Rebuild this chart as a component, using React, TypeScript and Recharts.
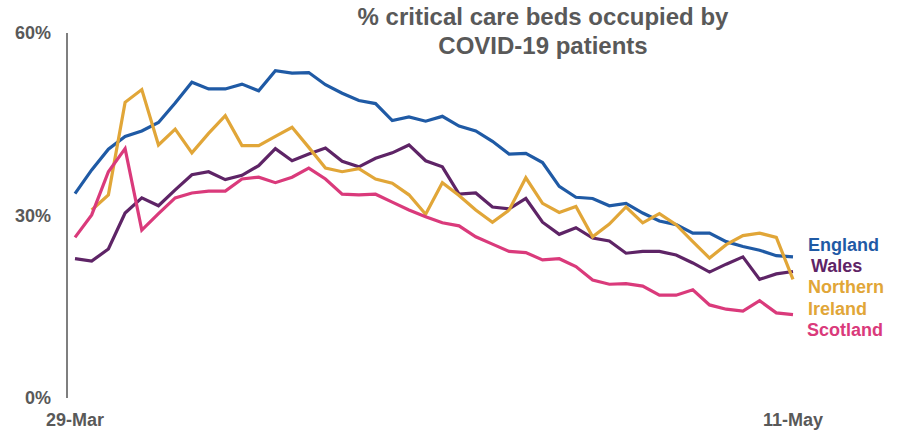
import React from 'react';
import { LineChart, Line, XAxis, YAxis } from 'recharts';

const dates = [
  '29-Mar', '30-Mar', '31-Mar', '1-Apr', '2-Apr', '3-Apr', '4-Apr', '5-Apr', '6-Apr', '7-Apr', '8-Apr',
  '9-Apr', '10-Apr', '11-Apr', '12-Apr', '13-Apr', '14-Apr', '15-Apr', '16-Apr', '17-Apr', '18-Apr',
  '19-Apr', '20-Apr', '21-Apr', '22-Apr', '23-Apr', '24-Apr', '25-Apr', '26-Apr', '27-Apr', '28-Apr',
  '29-Apr', '30-Apr', '1-May', '2-May', '3-May', '4-May', '5-May', '6-May', '7-May', '8-May',
  '9-May', '10-May', '11-May',
];

const england = [
  33.6, 37.5, 40.9, 43.0, 43.9, 45.3, 48.5, 51.9, 50.8, 50.8, 51.6,
  50.5, 53.8, 53.4, 53.5, 51.5, 50.1, 48.9, 48.4, 45.6, 46.2,
  45.5, 46.3, 44.7, 43.9, 42.2, 40.1, 40.2, 38.7, 34.8, 33.0,
  32.8, 31.6, 32.0, 30.4, 29.1, 28.5, 27.1, 27.1, 25.7, 24.9,
  24.3, 23.4, 23.2,
];

const wales = [
  22.9, 22.5, 24.5, 30.4, 32.9, 31.6, 34.2, 36.7, 37.2, 35.9, 36.6,
  38.2, 41.0, 39.0, 40.1, 41.1, 38.9, 38.0, 39.4, 40.3, 41.6,
  39.0, 38.0, 33.5, 33.7, 31.4, 31.1, 32.8, 28.9, 26.9, 28.0,
  26.3, 25.8, 23.8, 24.1, 24.1, 23.5, 22.2, 20.7, 22.0, 23.2,
  19.5, 20.4, 20.8,
];

const northernIreland = [
  null, 30.9, 33.4, 48.6, 50.7, 41.6, 44.2, 40.3, 43.5, 46.4, 41.5,
  41.5, 43.0, 44.5, 41.2, 37.8, 37.2, 37.7, 36.0, 35.3, 33.4,
  30.2, 35.4, 33.3, 30.9, 28.9, 30.9, 36.2, 32.0, 30.5, 31.5,
  26.5, 28.6, 31.4, 28.8, 30.3, 28.5, 25.7, 23.0, 25.2, 26.7,
  27.1, 26.4, 19.5,
];

const scotland = [
  26.4, 30.1, 37.2, 41.0, 27.6, 30.3, 32.9, 33.7, 34.0, 34.0, 36.0,
  36.3, 35.4, 36.3, 37.8, 36.0, 33.5, 33.4, 33.5, 32.2, 30.9,
  29.8, 28.8, 28.3, 26.5, 25.3, 24.1, 23.9, 22.7, 22.9, 21.6,
  19.4, 18.7, 18.8, 18.4, 16.9, 16.9, 17.8, 15.3, 14.6, 14.3,
  16.0, 14.0, 13.7,
];

const yTicks = [0, 30, 60];
const xTicks = ['29-Mar', '11-May'];

const COLORS = {
  england: '#1F5AA5',
  wales: '#5E2466',
  ni: '#E1A638',
  scotland: '#DA3A7B',
};

const FONT = '"Liberation Sans", Arial, sans-serif';
const GREY = '#595959';

const data = dates.map((d, i) => ({
  date: d,
  England: england[i],
  Wales: wales[i],
  'Northern Ireland': northernIreland[i],
  Scotland: scotland[i],
}));

export default function App() {
  return (
    <div style={{ position: 'absolute', left: 0, top: 0, width: 905, height: 431, background: '#fff' }}>
      <LineChart width={905} height={431} data={data} margin={{ top: 33, right: 112, bottom: 3, left: 0 }}>
        <XAxis
          dataKey="date"
          ticks={xTicks}
          interval={0}
          axisLine={false}
          tickLine={false}
          tickSize={0}
          tickMargin={15}
          height={30}
          padding={{ left: 8, right: 0 }}
          tick={{ fill: GREY, fontSize: 18, fontWeight: 'bold', fontFamily: FONT }}
        />
        <YAxis
          domain={[0, 60]}
          ticks={yTicks}
          width={67}
          tickFormatter={(v) => `${v}%`}
          axisLine={{ stroke: '#7F7F7F', strokeWidth: 2 }}
          tickLine={false}
          tickSize={0}
          tickMargin={16}
          tick={{ fill: GREY, fontSize: 18, fontWeight: 'bold', fontFamily: FONT }}
        />
        <Line type="linear" dataKey="England" stroke={COLORS.england} strokeWidth={3.2} dot={false} isAnimationActive={false} />
        <Line type="linear" dataKey="Wales" stroke={COLORS.wales} strokeWidth={3.2} dot={false} isAnimationActive={false} />
        <Line type="linear" dataKey="Northern Ireland" stroke={COLORS.ni} strokeWidth={3.2} dot={false} isAnimationActive={false} />
        <Line type="linear" dataKey="Scotland" stroke={COLORS.scotland} strokeWidth={3.2} dot={false} isAnimationActive={false} />
      </LineChart>

      {/* title + end-of-line labels */}
      <svg width={905} height={431} style={{ position: 'absolute', left: 0, top: 0, pointerEvents: 'none' }}>
        <g fontFamily={FONT} fontWeight="bold">
          <text x={543} y={25} textAnchor="middle" fontSize={24} fill={GREY}>% critical care beds occupied by</text>
          <text x={543} y={54} textAnchor="middle" fontSize={24} fill={GREY}>COVID-19 patients</text>
          <text x={808} y={251} fontSize={18} fill={COLORS.england}>England</text>
          <text x={811} y={272} fontSize={18} fill={COLORS.wales}>Wales</text>
          <text x={808} y={293} fontSize={18} fill={COLORS.ni}>Northern</text>
          <text x={808} y={315} fontSize={18} fill={COLORS.ni}>Ireland</text>
          <text x={807} y={336} fontSize={18} fill={COLORS.scotland}>Scotland</text>
        </g>
      </svg>
    </div>
  );
}
